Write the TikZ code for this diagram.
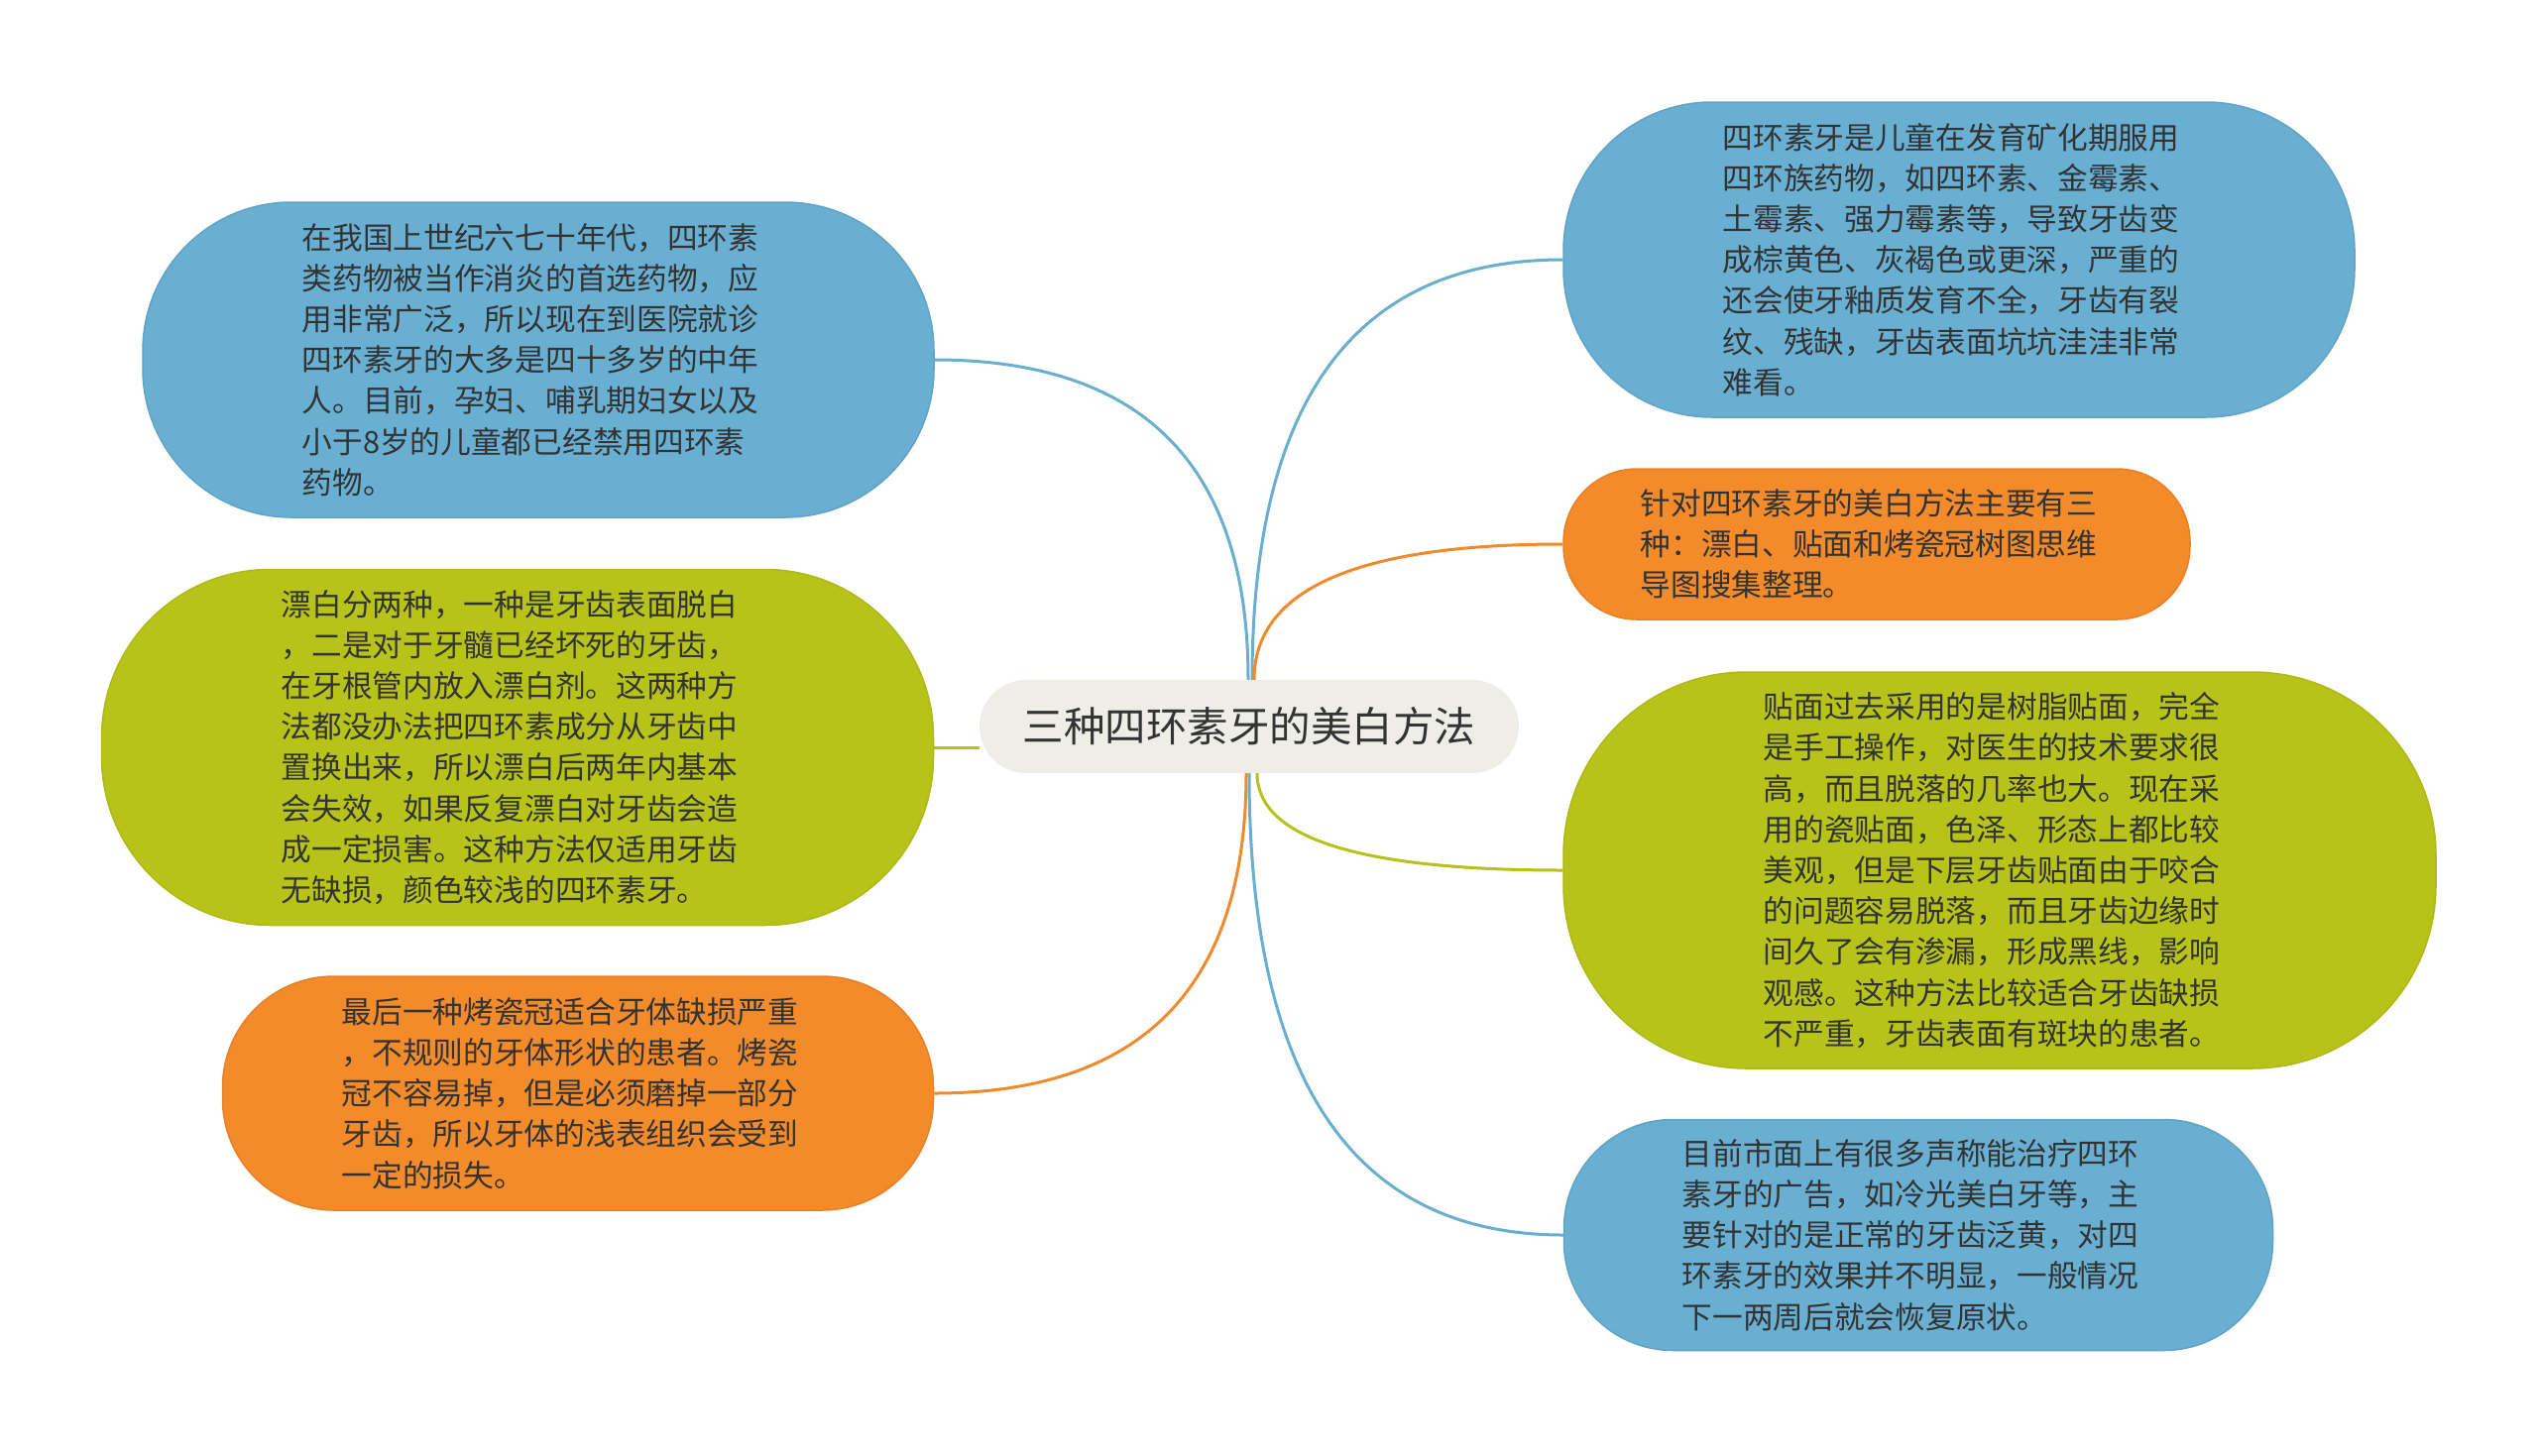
\documentclass[tikz,border=0pt]{standalone}
\usepackage{fontspec}
\setmainfont{Noto Sans CJK SC}
\usetikzlibrary{backgrounds,calc}
\definecolor{bluefill}{HTML}{69AFD2}
\definecolor{blueedge}{HTML}{5FA3C6}
\definecolor{greenfill}{HTML}{B8C31A}
\definecolor{greenedge}{HTML}{AEB915}
\definecolor{orangefill}{HTML}{F38B2B}
\definecolor{orangeedge}{HTML}{E98025}
\definecolor{centerfill}{HTML}{EEEEE7}
\definecolor{textc}{HTML}{333333}
\definecolor{lineblue}{HTML}{6AAFD0}
\definecolor{linegreen}{HTML}{B6C21B}
\definecolor{lineorange}{HTML}{F08A2C}
\newcommand{\padr}{\hspace*{16pt}}
% smooth mind-map link: vertical at start, horizontal at end (quadratic Bezier)
\newcommand{\mmlink}[3]{%
  \coordinate (mmk) at (#2 |- #3);
  \draw[conn,#1] (#2) .. controls ($(#2)!0.667!(mmk)$) and ($(#3)!0.667!(mmk)$) .. (#3);}
\tikzset{
  bub/.style={shape=rectangle, align=left, text=textc, inner sep=0pt, line width=1.5pt,
    font=\fontsize{30.7}{41.2}\selectfont},
  bluebub/.style={bub, fill=bluefill, draw=blueedge},
  greenbub/.style={bub, fill=greenfill, draw=greenedge},
  orangebub/.style={bub, fill=orangefill, draw=orangeedge},
  conn/.style={line width=3pt},
}
\begin{document}
\begin{tikzpicture}[x=1pt,y=-1pt]
\useasboundingbox (0,0) rectangle (2560,1468);

\node[shape=rectangle, fill=centerfill, minimum width=544, minimum height=94, rounded corners=47,
  text=textc, font=\fontsize{41.5}{48}\selectfont] (c) at (1260,733) {三种四环素牙的美白方法};

\node[bluebub, minimum width=798, minimum height=318, rounded corners=150] (lb) at (543,363) {在我国上世纪六七十年代，四环素\padr\\类药物被当作消炎的首选药物，应\\用非常广泛，所以现在到医院就诊\\四环素牙的大多是四十多岁的中年\\人。目前，孕妇、哺乳期妇女以及\\小于8岁的儿童都已经禁用四环素\\药物。};

\node[greenbub, minimum width=839, minimum height=359, rounded corners=170] (lg) at (522,754) {漂白分两种，一种是牙齿表面脱白\padr\\，二是对于牙髓已经坏死的牙齿，\\在牙根管内放入漂白剂。这两种方\\法都没办法把四环素成分从牙齿中\\置换出来，所以漂白后两年内基本\\会失效，如果反复漂白对牙齿会造\\成一定损害。这种方法仅适用牙齿\\无缺损，颜色较浅的四环素牙。};

\node[orangebub, minimum width=717, minimum height=236, rounded corners=112] (lo) at (583,1103) {最后一种烤瓷冠适合牙体缺损严重\padr\\，不规则的牙体形状的患者。烤瓷\\冠不容易掉，但是必须磨掉一部分\\牙齿，所以牙体的浅表组织会受到\\一定的损失。};

\node[bluebub, minimum width=798, minimum height=318, rounded corners=150] (rb) at (1976,262) {四环素牙是儿童在发育矿化期服用\padr\\四环族药物，如四环素、金霉素、\\土霉素、强力霉素等，导致牙齿变\\成棕黄色、灰褐色或更深，严重的\\还会使牙釉质发育不全，牙齿有裂\\纹、残缺，牙齿表面坑坑洼洼非常\\难看。};

\node[orangebub, minimum width=632, minimum height=152, rounded corners=74] (ro) at (1893,549) {针对四环素牙的美白方法主要有三\padr\\种：漂白、贴面和烤瓷冠树图思维\\导图搜集整理。};

\node[greenbub, minimum width=880, minimum height=400, rounded corners=185] (rg) at (2017,878) {贴面过去采用的是树脂贴面，完全\padr\\是手工操作，对医生的技术要求很\\高，而且脱落的几率也大。现在采\\用的瓷贴面，色泽、形态上都比较\\美观，但是下层牙齿贴面由于咬合\\的问题容易脱落，而且牙齿边缘时\\间久了会有渗漏，形成黑线，影响\\观感。这种方法比较适合牙齿缺损\\不严重，牙齿表面有斑块的患者。};

\node[bluebub, minimum width=715, minimum height=233, rounded corners=110] (rb2) at (1935,1246) {目前市面上有很多声称能治疗四环\padr\\素牙的广告，如冷光美白牙等，主\\要针对的是正常的牙齿泛黄，对四\\环素牙的效果并不明显，一般情况\\下一两周后就会恢复原状。};

\coordinate (ctl) at ($(c.north)+(-1,0)$);
\coordinate (ctr) at ($(c.north)+(3,0)$);
\coordinate (cto) at ($(c.north)+(5,0)$);
\coordinate (cbl) at ($(c.south)+(-3,0)$);
\coordinate (cbr) at ($(c.south)+(0,0)$);
\coordinate (cbg) at ($(c.south)+(8,0)$);

\begin{scope}[on background layer]
\fill[white] (0,0) rectangle (2560,1468);
\mmlink{lineblue}{ctl}{lb.east}
\draw[conn, linegreen] (c.west |- lg.east) -- (lg.east);
\mmlink{lineorange}{cbl}{lo.east}
\mmlink{lineblue}{ctr}{rb.west}
\mmlink{lineorange}{cto}{ro.west}
\mmlink{linegreen}{cbg}{rg.west}
\mmlink{lineblue}{cbr}{rb2.west}
\end{scope}
\end{tikzpicture}
\end{document}
